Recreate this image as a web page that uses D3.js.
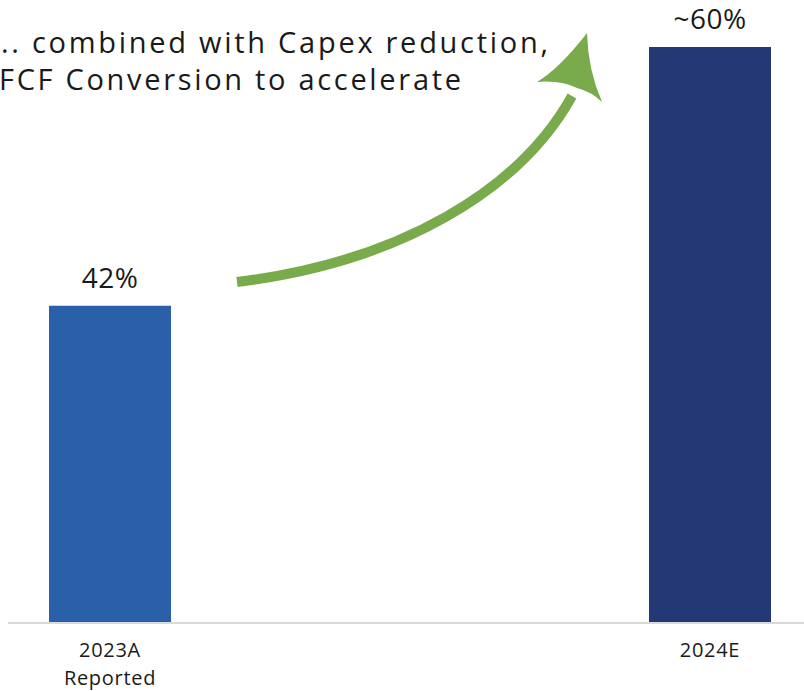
<!DOCTYPE html>
<html>
<head>
<meta charset="utf-8">
<script src="https://cdn.jsdelivr.net/npm/d3@7"></script>
<style>
  html, body { margin: 0; padding: 0; background: #fff; }
  svg { display: block; font-family: "Open Sans", "Noto Sans", sans-serif; }
</style>
</head>
<body>
<div id="chart"></div>
<script>
const categories = ["2023A", "2024E"];
const subLabels = ["Reported", ""];
const values = [42, 60];
const valueLabels = ["42%", "~60%"];
const titleLines = [".. combined with Capex reduction,", "FCF Conversion to accelerate"];

const W = 804, H = 691;
const svg = d3.select("#chart").append("svg")
    .attr("width", W)
    .attr("height", H);

// bars sit on a cropped axis (starts near 20%)
const x = d3.scalePoint().domain(categories).range([110, 710]);
const y = d3.scaleLinear().domain([20, 60]).range([622, 47]);
const barWidth = 122;
const colors = ["#2a60aa", "#253876"];

svg.append("g")
    .selectAll("rect")
    .data(values)
    .enter()
    .append("rect")
    .attr("x", (d, i) => x(categories[i]) - barWidth / 2)
    .attr("y", d => y(d))
    .attr("width", barWidth)
    .attr("height", d => y.range()[0] - y(d))
    .attr("fill", (d, i) => colors[i]);

// baseline
svg.append("line")
    .attr("x1", 8).attr("x2", W)
    .attr("y1", 623).attr("y2", 623)
    .attr("stroke", "#d9d9d9")
    .attr("stroke-width", 2);

// value labels
svg.append("g")
    .selectAll("text")
    .data(values)
    .enter()
    .append("text")
    .attr("x", (d, i) => x(categories[i]))
    .attr("y", d => y(d) - 18)
    .attr("text-anchor", "middle")
    .attr("font-size", 28)
    .attr("letter-spacing", 0.5)
    .attr("fill", "#1a1a1a")
    .text((d, i) => valueLabels[i]);

// category labels
const cat = svg.append("g")
    .selectAll("text")
    .data(categories)
    .enter()
    .append("text")
    .attr("x", d => x(d))
    .attr("y", 657)
    .attr("text-anchor", "middle")
    .attr("font-size", 20)
    .attr("letter-spacing", 0.7)
    .attr("fill", "#1a1a1a");
cat.append("tspan").attr("x", d => x(d)).text(d => d);
cat.append("tspan").attr("x", d => x(d)).attr("dy", 28).text((d, i) => subLabels[i]);

// headline
svg.append("g")
    .selectAll("text")
    .data(titleLines)
    .enter()
    .append("text")
    .attr("x", (d, i) => i === 0 ? 1 : -1)
    .attr("y", (d, i) => 53 + i * 37)
    .attr("font-size", 29)
    .attr("fill", "#1a1a1a")
    .attr("textLength", (d, i) => i === 0 ? 547 : 462)
    .attr("lengthAdjust", "spacing")
    .text(d => d);

// green growth arrow
const green = "#79ab4d";
svg.append("path")
    .attr("d", "M237,282 C400,262 520,190 572,96")
    .attr("fill", "none")
    .attr("stroke", green)
    .attr("stroke-width", 10);

svg.append("path")
    .attr("d", "M587,33 Q560,68 537,82 Q560,80 577,88 Q592,92 602,102 Q588,70 587,33 Z")
    .attr("fill", green);
</script>
</body>
</html>
